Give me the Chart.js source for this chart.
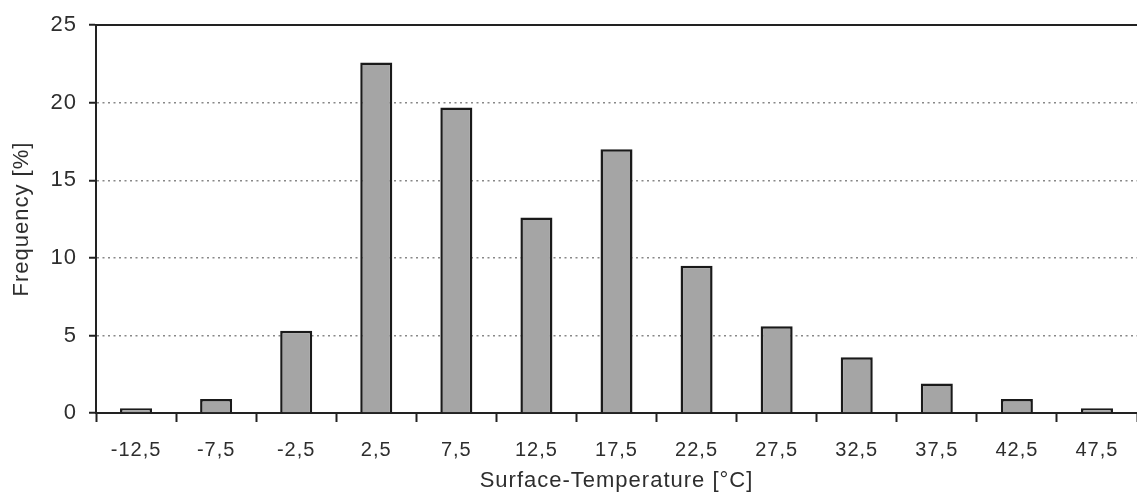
<!DOCTYPE html>
<html>
<head>
<meta charset="utf-8">
<script src="https://cdn.jsdelivr.net/npm/chart.js@4"></script>
<style>
  html, body { margin: 0; padding: 0; background: #fff; }
  #wrap { width: 1137px; height: 494px; }
</style>
</head>
<body>
<div id="wrap"><canvas id="myChart" width="1137" height="494"></canvas></div>
<script>
// Data
const categories = ["-12,5", "-7,5", "-2,5", "2,5", "7,5", "12,5", "17,5", "22,5", "27,5", "32,5", "37,5", "42,5", "47,5"];
const frequency = [0.3, 0.9, 5.3, 22.6, 19.7, 12.6, 17.0, 9.5, 5.6, 3.6, 1.9, 0.9, 0.3];
const yTicks = [0, 5, 10, 15, 20, 25];

const family = "'Liberation Sans', Arial, sans-serif";
const dark = "#222";
const textColor = "#2e2e2e";

// the scanned figure has slightly spaced-out lettering
const spacing = {
  id: "spacing",
  beforeUpdate(chart) { chart.ctx.letterSpacing = "1px"; },
  beforeDraw(chart) { chart.ctx.letterSpacing = "1px"; },
};

const ctx = document.getElementById("myChart").getContext("2d");
new Chart(ctx, {
  type: "bar",
  data: {
    labels: categories,
    datasets: [
      {
        label: "Frequency",
        data: frequency,
        backgroundColor: "#a5a5a5",
        borderColor: "#1a1a1a",
        borderWidth: 2.5,
        borderSkipped: "bottom",
        categoryPercentage: 1,
        barPercentage: 0.4,
      },
    ],
  },
  plugins: [spacing],
  options: {
    responsive: false,
    animation: false,
    layout: { padding: { top: 23, right: 0, left: 0, bottom: 0 } },
    plugins: {
      legend: { display: false },
      tooltip: { enabled: false },
    },
    scales: {
      x: {
        grid: {
          offset: true,
          drawOnChartArea: false,
          drawTicks: true,
          tickLength: 9,
          tickColor: dark,
          tickWidth: 2,
        },
        border: { color: dark, width: 2 },
        ticks: { font: { family: family, size: 20 }, color: textColor, padding: 16, maxRotation: 0 },
        title: {
          display: true,
          text: "Surface-Temperature [°C]",
          font: { family: family, size: 22 },
          color: textColor,
          padding: { top: 0, bottom: 0 },
        },
        afterFit: (s) => { s.height = 81; },
      },
      xTop: {
        type: "category",
        position: "top",
        labels: categories,
        grid: { display: false },
        ticks: { display: false },
        border: { color: dark, width: 2 },
        afterFit: (s) => { s.height = 0; },
      },
      y: {
        min: 0,
        max: 25,
        afterBuildTicks: (s) => { s.ticks = yTicks.map((v) => ({ value: v })); },
        grid: {
          color: "#888",
          lineWidth: 1.5,
          tickLength: 7,
          tickColor: dark,
          tickWidth: 2,
          tickBorderDash: [],
        },
        border: { color: dark, width: 2, dash: [2, 3.5] },
        ticks: { font: { family: family, size: 22 }, color: textColor, padding: 12 },
        title: {
          display: true,
          text: "Frequency [%]",
          font: { family: family, size: 22 },
          color: textColor,
          padding: { top: 9, bottom: 0 },
        },
        afterFit: (s) => { s.width = 96; },
      },
    },
  },
});
</script>
</body>
</html>
